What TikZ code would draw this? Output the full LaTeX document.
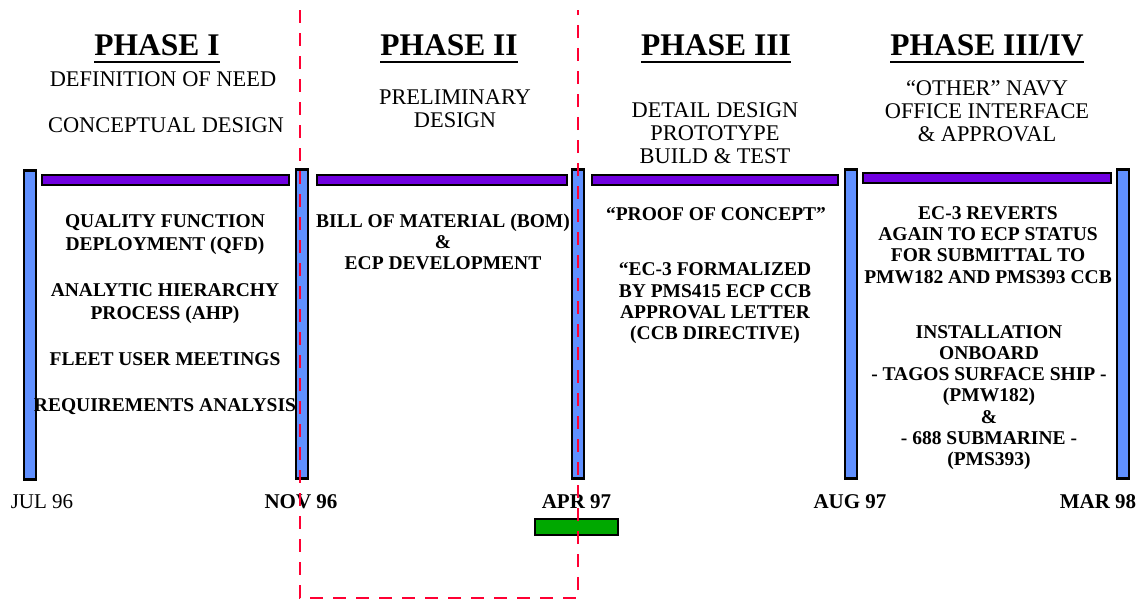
\documentclass[tikz,border=0pt]{standalone}
\usepackage{fontspec}
\setmainfont{Liberation Serif}
\usetikzlibrary{positioning}
\definecolor{postC}{RGB}{96,144,255}
\definecolor{barC} {RGB}{112,0,224}
\definecolor{goC}  {RGB}{0,168,0}
\definecolor{cutC} {RGB}{255,0,51}
\tikzset{
  post/.style   = {draw, line width=2.4pt, fill=postC, minimum width=11.5pt,
                   minimum height=309pt, inner sep=0pt},
  bar/.style    = {draw, line width=2pt, fill=barC, minimum height=10pt,
                   inner sep=0pt},
  title/.style  = {font=\bfseries\fontsize{31.5}{34}\selectfont,
                   inner sep=0pt, anchor=base},
  stage/.style  = {font=\fontsize{22.4}{22.8}\selectfont, align=center,
                   inner sep=0pt, anchor=base},
  task/.style   = {font=\bfseries\fontsize{19.5}{21.2}\selectfont, align=center,
                   inner sep=0pt, anchor=base},
  date/.style   = {font=\bfseries\fontsize{21}{24}\selectfont,
                   inner sep=0pt, anchor=base},
  uline/.style  = {line width=2.8pt},
  cut/.style    = {cutC, line width=2.8pt, dash pattern=on 13pt off 10pt}
}

\begin{document}
\begin{tikzpicture}[x=1pt, y=-1pt]
  \useasboundingbox (0,0) rectangle (1145,600);

  %% ── Phase titles ──────────────────────────────────────────────
  \node[title] (ph1) at (157, 55.5) {PHASE I};
  \node[title] (ph2) at (449, 55.5) {PHASE II};
  \node[title] (ph3) at (716, 55.5) {PHASE III};
  \node[title] (ph4) at (987, 55.5) {PHASE III/IV};
  \foreach \t in {ph1,ph2,ph3,ph4}
    \draw[uline] ([yshift=-6.5pt]\t.base west) -- ([yshift=-6.5pt]\t.base east);

  %% ── Stage texts (base = last line) ────────────────────────────
  \node[stage] (need)    at (163, 86)    {DEFINITION OF NEED};
  \node[stage] (concept) at (166, 132)   {CONCEPTUAL DESIGN};
  \node[stage] (prelim)  at (455, 127.4) {PRELIMINARY\\DESIGN};
  \node[stage] (detail)  at (715, 163.4) {DETAIL DESIGN\\PROTOTYPE\\BUILD \& TEST};
  \node[stage] (navy)    at (987, 141.4) {“OTHER” NAVY\\OFFICE INTERFACE\\\& APPROVAL};

  %% ── Posts (milestones) ────────────────────────────────────────
  \node[post] (p1) at (30,   325) {};
  \node[post] (p2) at (302,  324) {};
  \node[post] (p3) at (578,  324) {};
  \node[post] (p4) at (851,  324) {};
  \node[post] (p5) at (1123, 324) {};

  %% ── Phase bars ────────────────────────────────────────────────
  \node[bar, minimum width=247pt] (bar1) at (165.5, 180) {};
  \node[bar, minimum width=250pt] (bar2) at (442,   180) {};
  \node[bar, minimum width=246pt] (bar3) at (715,   180) {};
  \node[bar, minimum width=248pt] (bar4) at (987,   177.5) {};

  %% ── Tasks ─────────────────────────────────────────────────────
  \node[task, font=\bfseries\fontsize{19.5}{23}\selectfont] (qfd) at (165, 411.5)
    {QUALITY FUNCTION\\DEPLOYMENT (QFD)\\[23pt]ANALYTIC HIERARCHY\\PROCESS (AHP)\\[23pt]%
     FLEET USER MEETINGS\\[23pt]REQUIREMENTS ANALYSIS};
  \node[task] (bom)    at (443, 269.5) {BILL OF MATERIAL (BOM)\\\&\\ECP DEVELOPMENT};
  \node[task] (proof)  at (716, 220)   {“PROOF OF CONCEPT”};
  \node[task] (formal) at (715, 339.5) {“EC-3 FORMALIZED\\BY PMS415 ECP CCB\\APPROVAL LETTER\\(CCB DIRECTIVE)};
  \node[task] (revert) at (988, 283)   {EC-3 REVERTS\\AGAIN TO ECP STATUS\\FOR SUBMITTAL TO\\PMW182 AND PMS393 CCB};
  \node[task] (install) at (989, 465.5) {INSTALLATION\\ONBOARD\\- TAGOS SURFACE SHIP -\\(PMW182)\\\&\\- 688 SUBMARINE -\\(PMS393)};

  %% ── Dates ─────────────────────────────────────────────────────
  \node[date, font=\fontsize{21}{24}\selectfont] (jul96) at (42, 508) {JUL 96};
  \node[date] (nov96) at (301,    508) {NOV 96};
  \node[date] (apr97) at (576.5,  508) {APR 97};
  \node[date] (aug97) at (850,    508) {AUG 97};
  \node[date] (mar98) at (1098,   508) {MAR 98};

  %% ── Current marker ────────────────────────────────────────────
  \node[draw, line width=2pt, fill=goC, minimum width=83pt, minimum height=16pt,
        inner sep=0pt] (now) at (576.5, 527) {};

  %% ── Phase II cut-out ──────────────────────────────────────────
  \draw[cut] (300,10) -- (300,598) -- (578,598) -- (578,10);

\end{tikzpicture}
\end{document}
